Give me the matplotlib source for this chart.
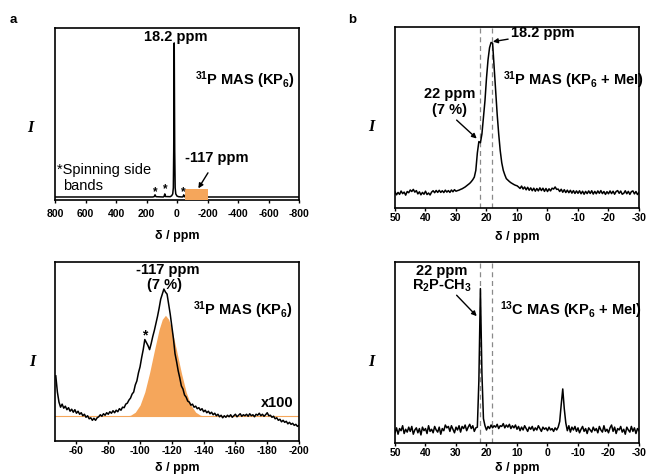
import numpy as np
import matplotlib
matplotlib.use('Agg')
import matplotlib.pyplot as plt
from matplotlib.patches import Rectangle

plt.rcParams['font.family'] = ['Liberation Sans', 'DejaVu Sans']
plt.rcParams['font.weight'] = 'bold'
plt.rcParams['mathtext.fontset'] = 'custom'
plt.rcParams['mathtext.rm'] = 'Liberation Sans:bold'
plt.rcParams['mathtext.bf'] = 'Liberation Sans:bold'
plt.rcParams['mathtext.it'] = 'Liberation Sans:bold:italic'
plt.rcParams['mathtext.default'] = 'rm'
plt.rcParams['axes.unicode_minus'] = False

ORANGE = '#F5A65B'

# ---------------- data ----------------
# (a) top: 31P MAS wide spectrum (ppm, intensity)
wide_x = [800, 160, 150, 144, 138, 90, 85, 80, 75, 45, 35, 28, 24, 21.5, 18.2,
          15, 12, 8, 0, -10, -35, -40, -44, -48, -100, -112, -117, -122, -135, -800]
wide_y = [0, 0, 0.002, 0.014, 0.002, 0, 0.003, 0.02, 0.003, 0.002, 0.008, 0.02, 0.06, 0.3, 1.0,
          0.3, 0.06, 0.02, 0.006, 0.002, 0, 0.003, 0.014, 0.002, 0, 0.002, 0.008, 0.003, 0, 0]
wide_ticks = [800, 600, 400, 200, 0, -200, -400, -600, -800]
wide_sidebands = [144, 80, -44]

# (a) bottom: x100 zoom, 1 ppm steps from -47 to -200
zoom_start, zoom_step = -47, -1
zoom_y = [
    0.40, 0.24, 0.14, 0.09, 0.12, 0.08, 0.10, 0.065, 0.085, 0.05,     # -47..-56
    0.07, 0.04, 0.065, 0.03, 0.05, 0.02, 0.035, 0.005, 0.02, -0.01,   # -57..-66
    0.005, -0.025, -0.015, -0.04, -0.02, -0.04, -0.015, -0.005, 0.015, 0.0,  # -67..-76
    0.025, 0.01, 0.035, 0.02, 0.045, 0.03, 0.055, 0.035, 0.06, 0.045,  # -77..-86
    0.075, 0.06, 0.09, 0.085, 0.12, 0.13, 0.16, 0.18, 0.22, 0.24,      # -87..-96
    0.31, 0.35, 0.43, 0.49, 0.58, 0.66, 0.76, 0.73, 0.70, 0.66,        # -97..-106
    0.72, 0.79, 0.85, 0.92, 0.99, 1.07, 1.16, 1.21, 1.26, 1.23,        # -107..-116
    1.21, 1.11, 1.01, 0.89, 0.77, 0.62, 0.54, 0.45, 0.38, 0.30,        # -117..-126
    0.27, 0.21, 0.19, 0.15, 0.14, 0.11, 0.12, 0.09, 0.10, 0.075,       # -127..-136
    0.085, 0.06, 0.075, 0.045, 0.06, 0.035, 0.05, 0.025, 0.04, 0.015,  # -137..-146
    0.03, 0.005, 0.02, -0.005, 0.01, -0.015, 0.005, -0.01, 0.01, -0.005,  # -147..-156
    0.015, -0.01, 0.005, 0.02, -0.005, 0.01, 0.025, 0.0, 0.015, 0.005,    # -157..-166
    0.02, 0.0, 0.025, 0.005, 0.015, -0.005, 0.02, 0.01, 0.03, 0.005,      # -167..-176
    0.02, 0.0, 0.015, 0.035, 0.005, 0.01, -0.01, 0.0, -0.025, -0.015,     # -177..-186
    -0.04, -0.03, -0.055, -0.04, -0.06, -0.05, -0.075, -0.06, -0.08, -0.07,  # -187..-196
    -0.09, -0.08, -0.10, -0.09,                                           # -197..-200
]
fit_x = [-90, -94, -97, -100, -103, -106, -109, -112, -114, -116, -118, -120,
         -123, -126, -129, -132, -135, -138, -142]
fit_y = [0, 0.01, 0.04, 0.11, 0.24, 0.43, 0.65, 0.86, 0.96, 1.0, 0.96, 0.86,
         0.65, 0.43, 0.24, 0.11, 0.04, 0.01, 0]
zoom_ticks = [-60, -80, -100, -120, -140, -160, -180, -200]

# (b) spectra: 0.5 ppm steps from 50 to -30
b_start, b_step = 50.0, -0.5
p31_y = [
    0.008, -0.012, 0.004, -0.009, 0.013, -0.004, 0.006, -0.014, 0.010, 0.002,   # 50..45.5
    0.020, 0.010, 0.024, 0.006, 0.016, -0.006, 0.008, -0.012, 0.004, -0.008,   # 45..40.5
    0.012, -0.010, 0.000, -0.013, 0.006, 0.015, 0.002, 0.017, 0.004, 0.018,    # 40..35.5
    0.004, 0.015, 0.003, 0.019, 0.006, 0.016, 0.004, 0.020, 0.008, 0.022,      # 35..30.5
    0.012, 0.016, 0.019, 0.024, 0.028, 0.034, 0.040, 0.048, 0.056, 0.064,      # 30..25.5
    0.075, 0.088, 0.105, 0.150, 0.265, 0.340, 0.332, 0.390, 0.500, 0.610,      # 25..20.5
    0.760, 0.880, 0.960, 0.995, 0.990, 0.830, 0.660, 0.520, 0.390, 0.280,      # 20..15.5
    0.200, 0.150, 0.120, 0.095, 0.085, 0.076, 0.068, 0.062, 0.056, 0.051,      # 15..10.5
    0.048, 0.040, 0.030, 0.046, 0.026, 0.040, 0.021, 0.038, 0.018, 0.034,      # 10..5.5
    0.015, 0.032, 0.012, 0.030, 0.014, 0.034, 0.016, 0.032, 0.011, 0.030,      # 5..0.5
    0.010, 0.028, 0.014, 0.032, 0.026, 0.040, 0.024, 0.026, 0.010, 0.025,      # 0..-4.5
    0.005, 0.022, 0.003, 0.019, 0.002, 0.018, -0.001, 0.016, -0.003, 0.014,    # -5..-9.5
    -0.002, 0.015, -0.005, 0.012, -0.008, 0.011, -0.004, 0.014, -0.003, 0.015, # -10..-14.5
    -0.007, 0.011, -0.005, 0.014, -0.002, 0.016, -0.004, 0.010, -0.009, 0.009, # -15..-19.5
    -0.005, 0.014, -0.004, 0.012, -0.008, 0.010, 0.016, -0.002, 0.013, -0.008, # -20..-24.5
    -0.002, 0.015, -0.005, 0.011, -0.009, 0.009, 0.014, -0.006, 0.010, -0.010, # -25..-29.5
    0.004,                                                                     # -30
]
c13_y = [
    -0.020, 0.015, -0.030, 0.010, -0.005, 0.030, -0.025, 0.005, -0.015, 0.020,  # 50..45.5
    -0.010, 0.025, -0.030, 0.000, 0.015, -0.020, 0.010, -0.035, 0.020, -0.005,  # 45..40.5
    0.010, -0.025, 0.030, -0.010, 0.005, -0.020, 0.025, 0.000, -0.015, 0.020,   # 40..35.5
    -0.030, 0.010, -0.005, 0.035, 0.015, 0.025, -0.010, 0.030, 0.005, -0.020,   # 35..30.5
    0.020, 0.000, 0.030, -0.015, 0.025, 0.010, 0.035, -0.005, 0.020, 0.040,     # 30..25.5
    0.010, 0.030, -0.010, 0.015, 0.020, 0.350, 1.000, 0.400, 0.080, 0.030,      # 25..20.5
    0.000, 0.025, 0.010, 0.035, 0.015, 0.030, 0.020, 0.040, 0.010, 0.030,       # 20..15.5
    0.025, 0.045, 0.015, 0.035, 0.020, 0.040, 0.010, 0.030, 0.015, 0.035,       # 15..10.5
    0.005, 0.025, -0.005, 0.020, 0.000, 0.030, 0.010, -0.010, 0.020, 0.005,     # 10..5.5
    0.025, -0.005, 0.015, 0.000, 0.030, 0.010, -0.010, 0.020, 0.005, 0.015,     # 5..0.5
    -0.005, 0.020, 0.000, 0.010, -0.010, 0.015, 0.000, 0.020, 0.060, 0.180,     # 0..-4.5
    0.290, 0.150, 0.050, -0.005, 0.030, -0.015, 0.020, 0.000, 0.025, -0.010,    # -5..-9.5
    0.015, -0.020, 0.005, 0.025, -0.010, 0.010, -0.025, 0.015, 0.000, -0.015,   # -10..-14.5
    0.020, -0.005, 0.010, -0.020, 0.025, 0.000, -0.015, 0.030, -0.010, 0.005,   # -15..-19.5
    -0.020, 0.015, 0.035, -0.010, 0.020, -0.025, 0.010, 0.000, 0.025, -0.015,   # -20..-24.5
    0.005, -0.030, 0.020, 0.000, -0.015, 0.025, -0.010, 0.015, -0.025, 0.010,   # -25..-29.5
    -0.005,                                                                     # -30
]
b_ticks = [50, 40, 30, 20, 10, 0, -10, -20, -30]
b_dashed = [22.0, 18.2]

# ---------------- figure ----------------
W, H = 646, 475
fig = plt.figure(figsize=(W / 100, H / 100), dpi=100)


def axes_px(left, top, right, bottom):
    return fig.add_axes([left / W, 1 - bottom / H, (right - left) / W, (bottom - top) / H])


def style(ax, ticks, pad):
    for s in ax.spines.values():
        s.set_linewidth(1.2)
    ax.set_yticks([])
    ax.set_xticks(ticks)
    ax.set_xticklabels([str(t) for t in ticks], fontsize=7.5, fontweight='bold')
    ax.tick_params(axis='x', direction='out', length=2.5, width=1, pad=pad)


def ftext(px, py, s, **kw):
    fig.text(px / W, 1 - py / H, s, **kw)


LW = 1.1
TFS = 10.5

# (a) top
ax1 = axes_px(55, 28, 299, 200)
ax1.plot(wide_x, wide_y, color='k', lw=LW)
ax1.set_xlim(800, -800)
ax1.set_ylim(-0.0195, 1.097)
style(ax1, wide_ticks, 4.0)
ax1.add_patch(Rectangle((-50, -0.0195), -150, 0.072, color=ORANGE, lw=0, zorder=3))
for sb, yy in zip(wide_sidebands, [0.03, 0.05, 0.03]):
    ax1.text(sb, yy, '*', ha='center', va='center', fontsize=8.5, fontweight='bold')
ax1.text(9, 1.037, '18.2 ppm', ha='center', va='center', fontsize=TFS)
ax1.text(-446, 0.759, r'$^{31}$P MAS (KP$_6$)', ha='center', va='center', fontsize=TFS)
ax1.text(789, 0.175, '*Spinning side', ha='left', va='center', fontsize=10.5, fontweight='normal')
ax1.text(748, 0.071, 'bands', ha='left', va='center', fontsize=10.5, fontweight='normal')
ax1.annotate('-117 ppm', xy=(-140, 0.056), xytext=(-262, 0.251), ha='center', va='center',
             fontsize=TFS,
             arrowprops=dict(arrowstyle='-|>', color='k', lw=1, mutation_scale=7,
                             shrinkA=4, shrinkB=0))

# (a) bottom
ax2 = axes_px(55, 262, 299, 441)
zoom_x = [zoom_start + zoom_step * i for i in range(len(zoom_y))]
ax2.axhline(0, color=ORANGE, lw=0.8, zorder=1)
ax2.fill_between(fit_x, fit_y, 0, color=ORANGE, lw=0, zorder=2)
ax2.plot(zoom_x, zoom_y, color='k', lw=LW, zorder=3)
ax2.set_xlim(-46.5, -200)
ax2.set_ylim(-0.245, 1.528)
style(ax2, zoom_ticks, 1.2)
ax2.text(-117.3, 1.446, '-117 ppm', ha='center', va='center', fontsize=TFS)
ax2.text(-115.6, 1.30, '(7 %)', ha='center', va='center', fontsize=TFS)
ax2.text(-165, 1.05, r'$^{31}$P MAS (KP$_6$)', ha='center', va='center', fontsize=TFS)
ax2.text(-186.6, 0.13, 'x100', ha='center', va='center', fontsize=TFS)
ax2.text(-102.8, 0.80, '*', ha='center', va='center', fontsize=10)

# (b) top
bx = [b_start + b_step * i for i in range(len(p31_y))]
ax3 = axes_px(395, 27, 639, 207.7)
for d in b_dashed:
    ax3.axvline(d, color='#8a8a8a', lw=0.9, ls=(0, (4, 3)))
ax3.plot(bx, p31_y, color='k', lw=LW)
ax3.set_xlim(50, -30)
ax3.set_ylim(-0.097, 1.097)
style(ax3, b_ticks, 1.2)
ax3.annotate('18.2 ppm', xy=(17.9, 1.0), xytext=(12.0, 1.055), ha='left', va='center',
             fontsize=TFS,
             arrowprops=dict(arrowstyle='-|>', color='k', lw=1, mutation_scale=7,
                             shrinkA=0, shrinkB=0))
ax3.text(14.7, 0.747, r'$^{31}$P MAS (KP$_6$ + MeI)', ha='left', va='center', fontsize=TFS)
ax3.text(32.0, 0.652, '22 ppm', ha='center', va='center', fontsize=TFS)
ax3.text(32.0, 0.549, '(7 %)', ha='center', va='center', fontsize=TFS)
ax3.annotate('', xy=(23.2, 0.36), xytext=(29.8, 0.482),
             arrowprops=dict(arrowstyle='-|>', color='k', lw=1, mutation_scale=7,
                             shrinkA=0, shrinkB=0))

# (b) bottom
ax4 = axes_px(395, 262, 639, 442.7)
for d in b_dashed:
    ax4.axvline(d, color='#8a8a8a', lw=0.9, ls=(0, (4, 3)))
ax4.plot(bx, c13_y, color='k', lw=LW)
ax4.set_xlim(50, -30)
ax4.set_ylim(-0.09, 1.188)
style(ax4, b_ticks, 1.2)
ax4.text(34.7, 1.124, '22 ppm', ha='center', va='center', fontsize=TFS)
ax4.text(34.7, 1.023, r'R$_2$P-CH$_3$', ha='center', va='center', fontsize=TFS)
ax4.annotate('', xy=(23.2, 0.805), xytext=(29.8, 0.953),
             arrowprops=dict(arrowstyle='-|>', color='k', lw=1, mutation_scale=7,
                             shrinkA=0, shrinkB=0))
ax4.text(15.6, 0.847, r'$^{13}$C MAS (KP$_6$ + MeI)', ha='left', va='center', fontsize=TFS)

# labels
for (px, py) in [(177, 236), (177, 468), (517, 236.7), (517, 468.3)]:
    ftext(px, py, 'δ / ppm', ha='center', va='center', fontsize=9, fontweight='bold')
for (px, py) in [(30, 128), (32, 362), (371, 127), (371, 362)]:
    ftext(px, py, 'I', ha='center', va='center', fontsize=11.5,
          family='Liberation Serif', style='italic', fontweight='bold')
ftext(13, 20, 'a', ha='center', va='center', fontsize=9.5, fontweight='bold')
ftext(352, 20, 'b', ha='center', va='center', fontsize=9.5, fontweight='bold')

fig.savefig('out.png', dpi=100)
